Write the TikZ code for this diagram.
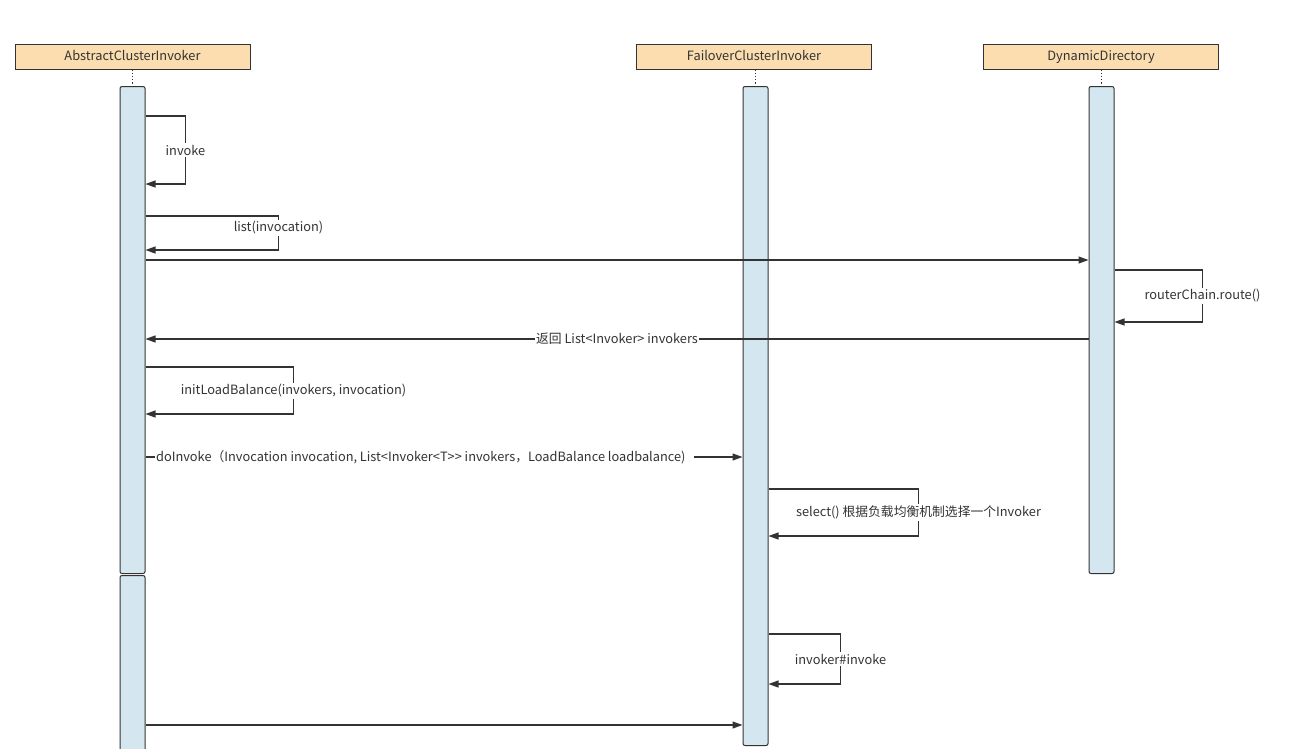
\documentclass[tikz,border=0pt]{standalone}
\usepackage{fontspec}
\setmainfont{Noto Sans CJK SC}
\usepackage{xcolor}
\usetikzlibrary{positioning, arrows.meta}
\definecolor{headfill}{HTML}{FBDDB0}
\definecolor{barfill}{HTML}{D4E6EF}
\definecolor{ink}{HTML}{333333}
\tikzset{
  headbox/.style={rectangle, draw=ink, line width=1pt, fill=headfill,
                  minimum width=235pt, minimum height=25pt,
                  text height=9.5pt, text depth=2.5pt,
                  font=\fontsize{12.8}{14}\selectfont, text=ink},
  actbar/.style={rectangle, draw=ink, line width=1pt, fill=barfill,
                 rounded corners=2pt, minimum width=25pt, anchor=north},
  lifeline/.style={dotted, line width=1.2pt, draw=ink},
  msg/.style={-{Triangle[length=10pt,width=7pt]}, line width=1.2pt, draw=ink},
  msglbl/.style={fill=white, inner sep=1.5pt, text=ink,
                 font=\fontsize{12.8}{14}\selectfont},
}

\begin{document}
\begin{tikzpicture}[x=1pt, y=1pt]

  \useasboundingbox (0,0) rectangle (1289,-748);
  \clip (0,0) rectangle (1289,-748);

  % participants
  \node[headbox] (aci) at (132.5,-56.5) {AbstractClusterInvoker};
  \node[headbox] (fci) at (754,-56.5)   {FailoverClusterInvoker};
  \node[headbox] (ddr) at (1101,-56.5)  {DynamicDirectory};

  % activation bars
  \node[actbar, minimum height=487pt] (aciA) at (132.5,-86)  {};
  \node[actbar, minimum height=200pt] (aciB) at (132.5,-575) {};
  \node[actbar, minimum height=659pt] (fciA) at (755.5,-86)  {};
  \node[actbar, minimum height=487pt] (ddrA) at (1101.5,-86) {};

  \draw[lifeline] (aci.south) -- (aciA.north);
  \draw[lifeline] (fci.south -| fciA.north) -- (fciA.north);
  \draw[lifeline] (ddr.south -| ddrA.north) -- (ddrA.north);

  % messages
  \draw[msg] (aciA.east |- 0,-116) -- ++(40,0)
     -- node[msglbl] {invoke} ++(0,-68) -- (aciA.east |- 0,-184);
  \draw[msg] (aciA.east |- 0,-216) -- ++(133,0)
     -- node[msglbl, pos=0.35] {list(invocation)} ++(0,-34) -- (aciA.east |- 0,-250);
  \draw[msg] (aciA.east |- 0,-260) -- (ddrA.west |- 0,-260);
  \draw[msg] (ddrA.east |- 0,-270) -- ++(88,0)
     -- node[msglbl] {routerChain.route()} ++(0,-52) -- (ddrA.east |- 0,-322);
  \draw[msg] (ddrA.west |- 0,-339)
     -- node[msglbl] {返回 List<Invoker> invokers} (aciA.east |- 0,-339);
  \draw[msg] (aciA.east |- 0,-367) -- ++(148,0)
     -- node[msglbl] {initLoadBalance(invokers, invocation)} ++(0,-47)
     -- (aciA.east |- 0,-414);
  \draw[msg] (aciA.east |- 0,-457)
     -- node[msglbl, pos=0.467] {doInvoke（Invocation invocation, List<Invoker<T>{}> invokers，LoadBalance loadbalance)\hspace*{7pt}}
     (fciA.west |- 0,-457);
  \draw[msg] (fciA.east |- 0,-489) -- ++(150,0)
     -- node[msglbl] {select() 根据负载均衡机制选择一个Invoker} ++(0,-47)
     -- (fciA.east |- 0,-536);
  \draw[msg] (fciA.east |- 0,-634) -- ++(72,0)
     -- node[msglbl] {invoker\#invoke} ++(0,-50) -- (fciA.east |- 0,-684);
  \draw[msg] (aciB.east |- 0,-725) -- (fciA.west |- 0,-725);

\end{tikzpicture}
\end{document}
